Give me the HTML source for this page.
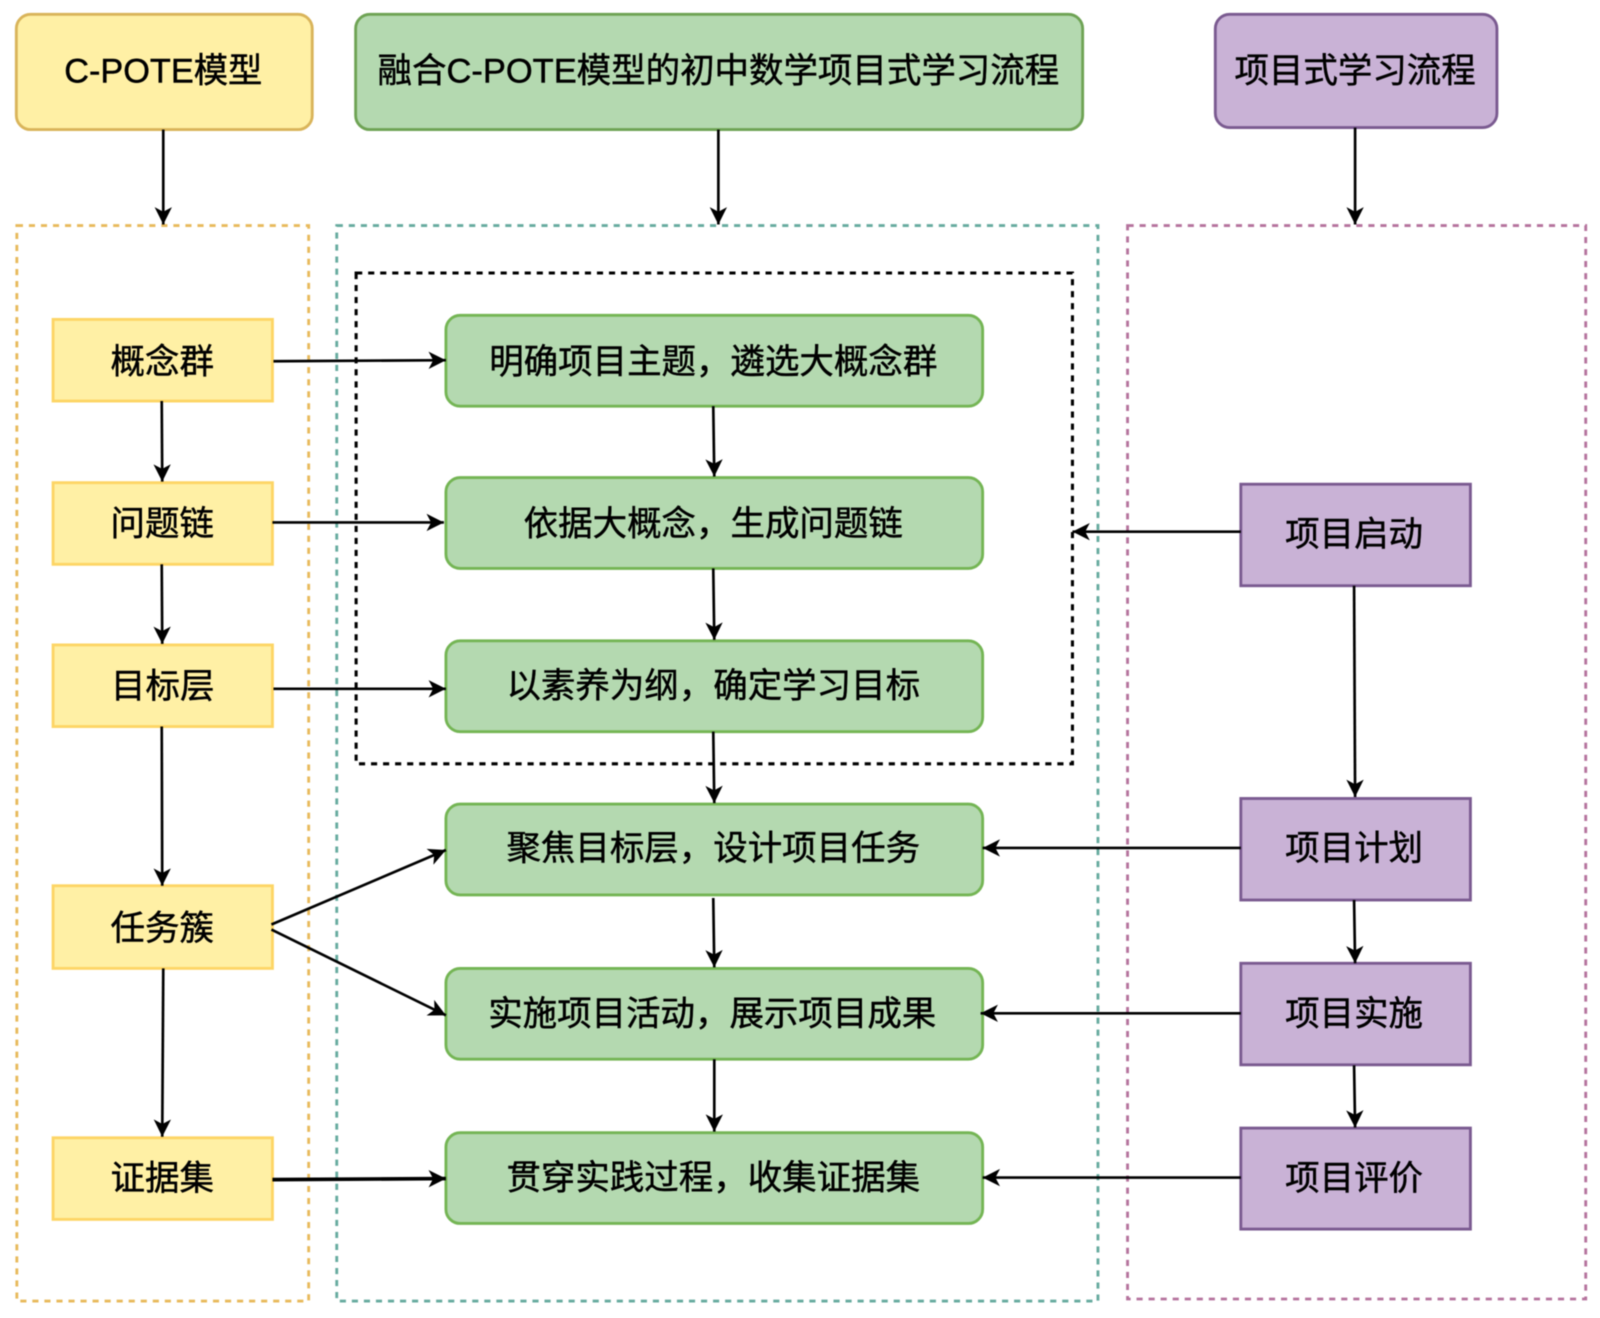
<!DOCTYPE html>
<html lang="zh">
<head>
<meta charset="utf-8">
<title>C-POTE</title>
<style>
html,body{margin:0;padding:0;background:#fff;}
svg{display:block;filter:blur(0.55px);}
text{font-family:"Liberation Sans","Noto Sans CJK SC",sans-serif;fill:#000;stroke:#000;stroke-width:0.45;text-anchor:middle;}
.h{font-size:33.8px;}
.b{font-size:33.8px;}
.y{fill:#fff0a5;stroke:#fdd565;stroke-width:2.8;}
.g{fill:#b4d9b0;stroke:#74b554;stroke-width:2.8;}
.p{fill:#c9b2d6;stroke:#7a5a90;stroke-width:2.8;}
.d{fill:none;stroke-width:2.8;stroke-dasharray:6 5.8;}
.a{fill:none;stroke:#000;stroke-width:2.6;marker-end:url(#ah);}
</style>
</head>
<body>
<svg xmlns="http://www.w3.org/2000/svg" width="1600" height="1318" viewBox="0 0 1568 1291.6">
<defs>
<marker id="ah" markerUnits="userSpaceOnUse" markerWidth="20" markerHeight="20" refX="17" refY="9" orient="auto" viewBox="0 0 20 18">
<path d="M17 9 L0 0.5 L4.5 9 L0 17.5 Z" fill="#000"/>
</marker>
</defs>

<rect x="16" y="14" width="290" height="113" rx="14" fill="#fff0a5" stroke="#d9b45a" stroke-width="2.8"/>
<rect x="348.500" y="14" width="712.500" height="113" rx="14" fill="#b4d9b0" stroke="#6ea354" stroke-width="2.8"/>
<rect x="1191" y="14" width="276" height="111" rx="14" fill="#c9b2d6" stroke="#7a5a90" stroke-width="2.8"/>

<rect class="d" x="16.500" y="221" width="286" height="1054" stroke="#e8ba5c"/>
<rect class="d" x="330" y="221" width="746" height="1054" stroke="#67ab9f"/>
<rect class="d" x="1105" y="221" width="449" height="1052" stroke="#b5739d"/>
<rect x="349" y="267.500" width="702" height="481" fill="none" stroke="#000" stroke-width="3" stroke-dasharray="6 5.8"/>

<rect class="y" x="52" y="313" width="215" height="80"/>
<rect class="y" x="52" y="473" width="215" height="80"/>
<rect class="y" x="52" y="632" width="215" height="80"/>
<rect class="y" x="52" y="868" width="215" height="81"/>
<rect class="y" x="52" y="1115" width="215" height="80"/>

<rect class="g" x="437" y="309" width="526" height="89" rx="14"/>
<rect class="g" x="437" y="468" width="526" height="89" rx="14"/>
<rect class="g" x="437" y="628" width="526" height="89" rx="14"/>
<rect class="g" x="437" y="788" width="526" height="89" rx="14"/>
<rect class="g" x="437" y="949" width="526" height="89" rx="14"/>
<rect class="g" x="437" y="1110" width="526" height="89" rx="14"/>

<rect class="p" x="1216" y="474.500" width="225" height="99.500"/>
<rect class="p" x="1216" y="782.500" width="225" height="99.500"/>
<rect class="p" x="1216" y="944" width="225" height="99.500"/>
<rect class="p" x="1216" y="1105.500" width="225" height="99"/>

<line class="a" x1="160" y1="127" x2="160" y2="220"/>
<line class="a" x1="704" y1="127" x2="704" y2="220"/>
<line class="a" x1="1328" y1="125" x2="1328" y2="220"/>
<line class="a" x1="268" y1="354" x2="437" y2="353"/>
<line class="a" x1="158.500" y1="393" x2="159" y2="472"/>
<line class="a" x1="267" y1="512" x2="435" y2="512"/>
<line class="a" x1="158.500" y1="553" x2="159" y2="631"/>
<line class="a" x1="268" y1="675" x2="437" y2="675"/>
<line class="a" x1="158.500" y1="712" x2="159" y2="868"/>
<line class="a" x1="160" y1="949" x2="159" y2="1114"/>
<line class="a" x1="267" y1="1156" x2="437" y2="1155" style="stroke-width:3.6"/>
<line class="a" x1="266" y1="906" x2="437" y2="833"/>
<line class="a" x1="266" y1="911" x2="437" y2="995"/>
<line class="a" x1="699" y1="398" x2="700" y2="467"/>
<line class="a" x1="699" y1="557" x2="700" y2="627"/>
<line class="a" x1="699" y1="717" x2="700" y2="787"/>
<line class="a" x1="699" y1="880" x2="700" y2="948"/>
<line class="a" x1="700" y1="1038" x2="700" y2="1109"/>
<line class="a" x1="1216" y1="521" x2="1051" y2="521"/>
<line class="a" x1="1327" y1="574" x2="1328" y2="781"/>
<line class="a" x1="1216" y1="831" x2="963" y2="831"/>
<line class="a" x1="1327" y1="882" x2="1328" y2="944"/>
<line class="a" x1="1216" y1="993" x2="961" y2="993"/>
<line class="a" x1="1327" y1="1044" x2="1328" y2="1105"/>
<line class="a" x1="1216" y1="1154" x2="963" y2="1154"/>

<text class="h" x="160" y="81" textLength="194" lengthAdjust="spacingAndGlyphs">C-POTE模型</text>
<text class="h" x="704" y="81" textLength="668" lengthAdjust="spacingAndGlyphs">融合C-POTE模型的初中数学项目式学习流程</text>
<text class="h" x="1328" y="81">项目式学习流程</text>

<text class="b" x="159" y="366">概念群</text>
<text class="b" x="159" y="525">问题链</text>
<text class="b" x="159.500" y="684">目标层</text>
<text class="b" x="159" y="921">任务簇</text>
<text class="b" x="159" y="1166">证据集</text>

<text class="b" x="699" y="366">明确项目主题，遴选大概念群</text>
<text class="b" x="699" y="525">依据大概念，生成问题链</text>
<text class="b" x="699" y="683.500">以素养为纲，确定学习目标</text>
<text class="b" x="699" y="843">聚焦目标层，设计项目任务</text>
<text class="b" x="698" y="1005">实施项目活动，展示项目成果</text>
<text class="b" x="699" y="1165.500">贯穿实践过程，收集证据集</text>

<text class="b" x="1327" y="535">项目启动</text>
<text class="b" x="1327" y="843">项目计划</text>
<text class="b" x="1327" y="1005">项目实施</text>
<text class="b" x="1327" y="1166">项目评价</text>
</svg>
</body>
</html>
